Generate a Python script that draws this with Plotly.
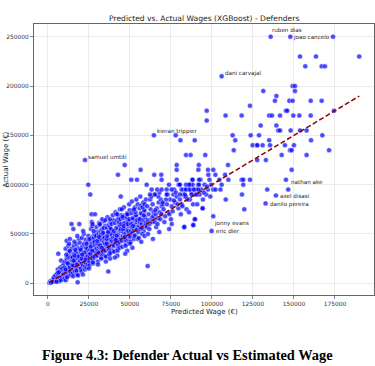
import plotly.graph_objects as go

# ---- data (thousands of euros): (predicted, actual) ----
band_00_10 = [(0.8,0.5),(1.2,1),(1.5,2),(2.0,1),(2.4,3),(2.9,2),(3.3,4),(3.8,3),(4.2,5),(4.7,2),(5.1,6),(1.8,0.5),(2.7,1.5),(3.6,6),(4.5,8),
    (5.4,3),(5.8,6),(6.2,8),(6.6,4),(7.0,9),(7.3,5),(7.7,11),(8.1,7),(8.5,10),(8.9,13),(9.3,8),(9.7,12),(6.0,14),(6.8,2),(7.5,16),(8.3,6),(9.0,18),(9.6,4),(5.6,10),(7.2,12),(8.7,15),(9.9,20),(6.3,30),(8.0,23),(9.4,9),(6.4,11),(7.9,3),(5.2,1.5)]
band_10_20 = [(10.2,5),(10.6,9),(11.0,12),(11.4,7),(11.8,15),(12.2,10),(12.6,18),(13.0,8),(13.4,14),(13.8,20),(14.2,11),(14.6,17),(10.4,22),(10.9,3),(11.5,25),(12.0,13),(12.5,28),(13.1,16),(13.6,24),(14.1,30),(14.7,19),(10.8,35),(11.7,6),(12.8,32),(13.9,26),(14.9,23),(11.4,43),(13.4,45),(12.4,38),(14.4,35),(11.6,21),(12.9,40),(10.1,16),(12.3,27),(14.0,9),(11.2,29),(13.3,33),(14.4,60),(10.7,14),(13.7,12),(12.1,20),(14.8,27),
    (15.2,10),(15.6,14),(16.0,18),(16.4,12),(16.8,22),(17.2,16),(17.6,26),(18.0,20),(18.4,15),(18.8,24),(19.2,28),(19.6,19),(15.4,7),(15.9,30),(16.6,25),(17.0,33),(17.5,11),(18.2,36),(18.7,29),(19.3,23),(19.8,32),(15.8,38),(16.3,21),(17.3,40),(17.8,9),(18.5,27),(19.0,17),(19.5,35),(16.1,42),(17.4,13),(18.9,45),(15.0,26),(16.9,31),(18.3,8),(19.7,22),(17.9,48),(16.7,34),(15.3,18),(15.5,55),(19.1,60),(19.5,41),(18.1,1),(16.2,28),(17.7,19),(19.9,14),(15.7,23)]
band_20_30 = [(20.2,15),(20.6,20),(21.0,24),(21.4,18),(21.8,28),(22.2,22),(22.6,32),(23.0,26),(23.4,19),(23.8,30),(24.2,35),(24.6,23),(20.4,12),(20.9,37),(21.6,27),(22.0,40),(22.4,17),(23.1,44),(23.6,33),(24.0,25),(24.8,38),(20.7,46),(21.2,30),(22.8,21),(23.3,36),(24.4,42),(21.9,50),(23.9,29),(20.1,34),(22.5,14),(24.1,27),(21.5,53),(23.5,40),(22.1,31),(24.7,48),(20.5,25),(23.7,16),(21.3,9),(22.9,24),(24.3,19),(20.8,29),
    (25.2,22),(25.6,27),(26.0,31),(26.4,25),(26.8,35),(27.2,29),(27.6,38),(28.0,33),(28.4,26),(28.8,41),(29.2,36),(29.6,30),(25.4,18),(25.9,44),(26.6,40),(27.0,47),(27.5,20),(28.2,50),(28.7,43),(29.3,28),(29.8,52),(25.8,34),(26.3,55),(27.3,24),(27.8,46),(28.5,39),(29.0,32),(29.5,57),(26.1,37),(27.4,21),(28.9,49),(25.0,15),(26.9,58),(28.3,42),(29.7,35),(27.9,53),(26.7,62),(25.3,45),(28.1,27),(29.4,48),(26.6,70),(28.7,70),(27.2,60),(25.7,30),(29.9,40),(27.1,33)]
band_30_40 = [(30.2,28),(30.6,33),(31.0,37),(31.4,31),(31.8,41),(32.2,35),(32.6,44),(33.0,39),(33.4,30),(33.8,47),(34.2,42),(34.6,36),(30.4,22),(30.9,50),(31.6,45),(32.0,53),(32.4,26),(33.1,55),(33.6,48),(34.0,34),(34.8,58),(30.7,40),(31.2,61),(32.8,29),(33.3,52),(34.4,46),(31.9,38),(33.9,63),(30.1,43),(32.5,25),(34.1,56),(31.5,59),(33.5,32),(32.1,49),(34.7,40),(30.5,19),(33.7,51),(31.1,47),(33.1,65),(31.7,60),(32.9,36),(34.9,28),(30.8,31),
    (35.2,33),(35.6,38),(36.0,42),(36.4,36),(36.8,46),(37.2,40),(37.6,50),(38.0,44),(38.4,35),(38.8,53),(39.2,48),(39.6,41),(35.4,27),(35.9,56),(36.6,51),(37.0,59),(37.5,30),(38.2,62),(38.7,54),(39.3,39),(39.8,64),(35.8,45),(36.3,67),(37.3,34),(37.8,57),(38.5,50),(39.0,43),(39.5,69),(36.1,48),(37.4,29),(38.9,60),(35.0,64),(36.9,37),(38.3,55),(39.7,46),(37.9,25),(36.7,52),(35.3,22),(36.8,12),(37.8,65),(39.9,33),(35.7,40),(38.1,31)]
band_40_50 = [(40.2,38),(40.6,43),(41.0,47),(41.4,41),(41.8,51),(42.2,45),(42.6,55),(43.0,49),(43.4,40),(43.8,58),(44.2,53),(44.6,46),(40.4,32),(40.9,61),(41.6,56),(42.0,64),(42.4,35),(43.1,66),(43.6,59),(44.0,44),(44.8,69),(40.7,50),(41.2,72),(42.8,39),(43.3,62),(44.4,55),(41.9,48),(43.9,75),(40.1,53),(42.5,33),(44.1,65),(41.5,70),(43.5,42),(42.3,28),(44.7,60),(42.3,70),(40.8,26),(43.7,36),(41.3,44),
    (45.2,43),(45.6,48),(46.0,52),(46.4,46),(46.8,56),(47.2,50),(47.6,60),(48.0,54),(48.4,45),(48.8,63),(49.2,58),(49.6,51),(45.4,37),(45.9,66),(46.6,61),(47.0,69),(47.5,40),(48.2,71),(48.7,64),(49.3,49),(49.8,74),(45.8,55),(46.3,77),(47.3,44),(47.8,67),(48.5,60),(49.0,53),(49.5,80),(46.1,58),(47.4,38),(48.9,70),(45.0,75),(46.9,47),(48.3,33),(49.7,65),(45.5,67.5),(48.4,70),(47.1,30),(49.4,42)]
band_50_60 = [(50.2,47),(50.6,53),(51.0,57),(51.4,51),(51.8,61),(52.2,55),(52.6,65),(53.0,59),(53.4,49),(53.8,68),(54.2,62),(54.6,56),(50.4,42),(50.9,71),(51.6,66),(52.0,74),(52.4,45),(53.1,77),(53.6,69),(54.0,54),(54.8,80),(50.7,60),(51.2,83),(52.8,48),(53.3,72),(54.4,64),(51.9,58),(53.9,85),(50.1,40),(52.5,75),(54.9,45),(51.5,36),
    (55.2,52),(55.6,58),(56.0,62),(56.4,55),(56.8,66),(57.2,60),(57.6,70),(58.0,64),(58.4,53),(58.8,73),(59.2,67),(59.6,61),(55.4,46),(55.9,76),(56.6,71),(57.0,79),(57.5,50),(58.2,82),(58.7,74),(59.3,58),(59.8,85),(55.8,65),(56.3,88),(57.3,56),(57.8,77),(58.5,69),(59.0,80),(56.9,42),(58.9,48)]
band_60_80 = [(60.2,57),(60.8,64),(61.4,70),(62.0,60),(62.6,75),(63.2,66),(63.8,80),(64.4,72),(61.0,50),(62.3,85),(63.5,62),(64.8,90),(60.5,78),(61.8,55),(63.0,88),(64.2,68),(60.8,17.5),(65.2,62),(65.8,70),(66.4,76),(67.0,66),(67.6,82),(68.2,72),(68.8,85),(69.4,78),(66.0,57),(67.3,88),(68.5,65),(69.8,80),(65.5,74),(66.8,60),(68.0,92),(69.2,70),(64.0,45),(67.9,52),
    (70.5,75),(71.5,68),(72.5,80),(73.5,72),(74.5,85),(75.5,78),(76.5,90),(77.5,82),(78.5,88),(79.5,76),(71.0,62),(73.0,90),(75.0,65),(77.0,95),(79.0,80),(72.0,85),(74.0,70),(76.0,73),(78.0,92),(70.0,82),(75.5,60),(79.8,100),(73.9,55),(76.8,84)]
band_80_100 = [(80.5,85),(81.5,80),(82.5,90),(83.5,88),(84.5,75),(85.5,95),(86.5,85),(87.5,92),(88.5,80),(89.5,90),(81.0,70),(83.0,95),(85.0,85),(87.0,100),(89.0,95),(82.0,78),(84.0,88),(86.0,72),(88.0,105),(83.1,57),
    (90.5,95),(91.5,100),(92.5,90),(93.5,95),(94.5,85),(95.5,100),(96.5,90),(97.5,95),(98.5,105),(99.5,100),(91.0,80),(93.0,105),(95.0,92),(97.0,98),(99.0,88),(94.3,76),(89.6,65),(88.6,59)]
outliers = [(173.8,250),(153.7,230),(163.4,230),(189.8,230),(156.9,220),(166.9,220),(168.9,220),(149.2,200),(150.6,200),(150.6,195),(131.3,195),(139.3,190),
    (138.4,185),(147.2,185),(149.2,185),(160.2,185),(166.9,185),(123.2,180),(96.8,175),(145.1,175),(145.9,175),(174.4,175),(108.3,170),(118.1,170),(134.9,170),(136.6,170),(141.5,170),(149.6,170),(153.3,170),(160.2,170),
    (96.8,165),(129.7,160),(139.3,160),(140.4,155),(141.5,155),(148.0,155),(153.7,155),(157.7,155),(112.6,150),(123.6,150),(128.7,150),(167.3,150),(77.9,150),
    (80.8,145),(89.5,145),(114.2,145),(134.9,145),(160.4,145),(124.8,140),(127.3,140),(127.7,140),(130.9,140),(135.4,140),(144.5,140),(150.0,140),
    (113.3,135),(147.6,135),(148.6,135),(171.4,135),(84.2,130),(87.0,130),(95.9,130),(142.5,130),(157.7,130),(127.6,125),(132.9,125),
    (46.8,120),(78.5,120),(92.0,120),(109.8,120),(56.5,115),(78.5,115),(91.7,115),(97.6,115),(100.8,115),(148.6,115),
    (42.7,110),(64.8,110),(69.1,110),(97.8,110),(102.1,110),(108.0,110),(50.8,105),(54.3,105),(69.3,105),(78.5,105),(88.2,105),(92.1,105),(104.5,105),(110.0,105),(118.1,105),(119.1,105),(123.2,105),
    (24.6,100),(60.2,100),(73.8,100),(79.9,100),(85.8,100),(88.2,100),(92.1,100),(119.1,100),(80.5,100),(84.2,100),(86.2,100),(105.9,100),
    (63.2,95),(66.6,95),(69.3,95),(72.4,95),(75.4,95),(81.5,95),(84.1,95),(86.6,95),(89.0,95),(133.7,95),(146.5,95),(91.7,95),(100.8,95),(102.2,95),(105.2,95),
    (25.8,90),(62.2,90),(65.3,90),(72.4,90),(80.5,90),(83.5,90),(87.6,90),(90.6,90),(118.3,90),(44.4,88),(108.4,85),(94.3,76),(119.7,75),(89.6,65),(88.6,59),(83.1,57)]

player_names = ["ruben dias", "joao cancelo", "dani carvajal", "kieran trippier", "samuel umtiti",
                "nathan ake", "axel disasi", "danilo pereira", "jonny evans", "eric dier"]
player_pred_k = [135.8, 147.8, 105.9, 64.6, 22.6, 145.1, 139.0, 132.7, 100.8, 99.8]
player_actual_k = [250, 250, 210, 150, 125, 105, 89, 81, 68, 53]
# label offsets in pixels (dx, dy), styling only
label_offsets = [(-1, 7), (1, -1), (1, 3), (1, 4), (1, 3), (3, -2), (2, 0), (2, -1), (-1, -7), (2, 0)]

x_ticks = [0, 25000, 50000, 75000, 100000, 125000, 150000, 175000]
y_ticks = [0, 50000, 100000, 150000, 200000, 250000]

pairs = band_00_10 + band_10_20 + band_20_30 + band_30_40 + band_40_50 + band_50_60 + band_60_80 + band_80_100 + outliers
pred = [p * 1000 for p, a in pairs] + [p * 1000 for p in player_pred_k]
actual = [a * 1000 for p, a in pairs] + [a * 1000 for a in player_actual_k]

fig = go.Figure()
fig.add_trace(go.Scatter(
    x=pred, y=actual, mode="markers",
    marker=dict(size=5, color="rgba(0,0,255,0.7)", line=dict(color="rgba(255,255,255,0.8)", width=0.5)),
    showlegend=False, hoverinfo="skip"))
lo, hi = min(pred), max(pred)
fig.add_trace(go.Scatter(
    x=[lo, hi], y=[lo, hi], mode="lines",
    line=dict(color="#8b0000", width=1.5, dash="5px,2.5px"), showlegend=False, hoverinfo="skip"))

font_fam = "DejaVu Sans"
ann = []
for name, px, py, (dx, dy) in zip(player_names, player_pred_k, player_actual_k, label_offsets):
    ann.append(dict(x=px * 1000, y=py * 1000, xref="x", yref="y", text=name, showarrow=False,
                    xanchor="left", yanchor="middle", xshift=dx, yshift=dy,
                    font=dict(family=font_fam, size=5.6, color="#222")))

ann.append(dict(x=0.5, y=1.021, xref="paper", yref="paper", text="Predicted vs. Actual Wages (XGBoost) - Defenders",
                showarrow=False, xanchor="center", yanchor="middle", font=dict(family=font_fam, size=7.6, color="#222")))
ann.append(dict(x=0.5, y=-0.0616, xref="paper", yref="paper", text="Predicted Wage (€)",
                showarrow=False, xanchor="center", yanchor="middle", font=dict(family=font_fam, size=7, color="#222")))
ann.append(dict(x=-0.0824, y=0.5, xref="paper", yref="paper", text="Actual Wage (€)", textangle=-90,
                showarrow=False, xanchor="center", yanchor="middle", font=dict(family=font_fam, size=7, color="#222")))
ann.append(dict(x=0.4515, y=-0.221, xref="paper", yref="paper", text="<b>Figure 4.3: Defender Actual vs Estimated Wage</b>",
                showarrow=False, xanchor="center", yanchor="middle", font=dict(family="Liberation Serif", size=14.4, color="#000")))

axis_common = dict(showgrid=True, gridcolor="#ebebeb", gridwidth=1, zeroline=False,
                   showline=True, linecolor="#666", linewidth=1, mirror=True,
                   ticks="outside", ticklen=3, tickcolor="#666", tickwidth=0.8,
                   tickfont=dict(family=font_fam, size=5.9, color="#333"), tickformat="d")

fig.update_layout(
    width=375, height=366, autosize=False,
    margin=dict(l=34, r=1, t=24, b=71, pad=0),
    paper_bgcolor="white", plot_bgcolor="white",
    xaxis=dict(range=[-8500, 198800], tickvals=x_ticks, **axis_common),
    yaxis=dict(range=[-11900, 262900], tickvals=y_ticks, **axis_common),
    annotations=ann,
)
fig.write_html("out.html", config={"displayModeBar": False, "staticPlot": True},
               post_script="document.body.style.margin='0';document.body.style.overflow='hidden';")
